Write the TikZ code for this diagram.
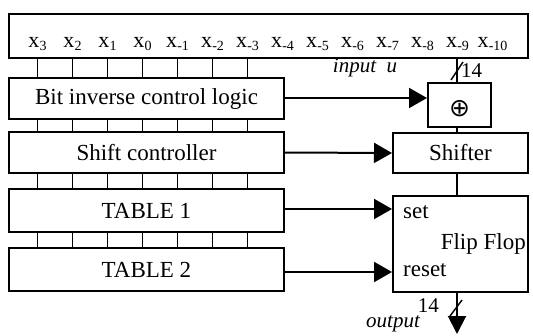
\documentclass[tikz,border=0pt]{standalone}
\usepackage{fontspec}
\setmainfont{Liberation Serif}
\newfontfamily\symfont{DejaVu Sans}
\usetikzlibrary{arrows.meta}
\newcommand\xsub[1]{x\kern0.3pt\raisebox{-3.5pt}{\fontsize{14}{14}\selectfont #1}}
\begin{document}
\begin{tikzpicture}[x=1pt,y=-1pt,
  blk/.style={draw, line width=2pt, inner sep=0pt, font=\fontsize{23}{23}\selectfont},
  bit/.style={inner sep=0pt, font=\fontsize{22}{22}\selectfont, anchor=base},
  tick/.style={line width=1.4pt},
  sig/.style={line width=2pt, -{Triangle[length=18pt,width=20pt]}},
  bus/.style={line width=1.8pt},
  lbl/.style={inner sep=0pt, font=\fontsize{21}{21}\selectfont}]
\useasboundingbox (0,0) rectangle (533,335);

% register with the input bits
\node[blk, minimum width=519pt, minimum height=44pt] (reg) at (268.5,36) {};
\foreach \lab [count=\i from 0] in {3,2,1,0,-1,-2,-3,-4,-5,-6,-7,-8,-9,-10}{
  \pgfmathsetmacro\px{37.5+35*\i}
  \node[bit] (b\i) at (\px,47) {\xsub{\lab}};
}

% control blocks on the left
\node[blk, minimum width=275pt, minimum height=41pt] (inv) at (146.5,98.5) {Bit inverse control logic};
\node[blk, minimum width=275pt, minimum height=41pt] (shc) at (146.5,152.5) {Shift controller};
\node[blk, minimum width=275pt, minimum height=43pt] (t1) at (146.5,210.5) {TABLE 1};
\node[blk, minimum width=275pt, minimum height=43pt] (t2) at (146.5,269.5) {TABLE 2};

% data path on the right
\node[blk, minimum width=63pt, minimum height=44pt] (xr) at (459.5,105) {};
\node[inner sep=0pt, font=\symfont\fontsize{25}{25}\selectfont] (xrsym) at (459.5,108.5) {⊕};
\node[blk, minimum width=135pt, minimum height=40pt] (sh) at (460.5,153) {Shifter};
\node[blk, minimum width=135pt, minimum height=96pt] (ff) at (460.5,244) {};
\node[anchor=base west, inner sep=0pt, font=\fontsize{23}{23}\selectfont] (ffset) at (403,218) {set};
\node[anchor=base east, inner sep=0pt, font=\fontsize{23}{23}\selectfont] (ffname) at (526,249) {Flip Flop};
\node[anchor=base west, inner sep=0pt, font=\fontsize{23}{23}\selectfont] (ffreset) at (403,276) {reset};

% bit lines between the stacked blocks
\foreach \i in {0,...,6}{
  \draw[tick] (reg.south -| b\i) -- (inv.north -| b\i);
  \draw[tick] (inv.south -| b\i) -- (shc.north -| b\i);
  \draw[tick] (shc.south -| b\i) -- (t1.north -| b\i);
  \draw[tick] (t1.south -| b\i) -- (t2.north -| b\i);
}

% control signals
\draw[sig] (inv.east |- 0,98) -- (xr.west |- 0,98);
\draw[sig] (shc.east) -- (sh.west);
\draw[sig] (t1.east |- 0,209) -- (ff.west |- 0,209);
\draw[sig] (t2.east |- 0,272) -- (ff.west |- 0,272);

% 14-bit input bus
\coordinate (busx) at (457,0);
\draw[bus] (reg.south -| busx) -- (xr.north -| busx);
\draw[line width=1.4pt] (451,80) -- (463,62);
\node[lbl, anchor=west] (w1) at (461,71) {14};
\node[lbl, font=\itshape\fontsize{21}{21}\selectfont] (inu) at (365,68) {input\ \ u};

% through the shifter to the flip flop
\draw[bus] (xr.south -| busx) -- (sh.north -| busx);
\draw[bus] (sh.south -| busx) -- (ff.north -| busx);

% 14-bit output
\coordinate (out) at (457,334);
\draw[line width=2pt, -{Triangle[length=18pt,width=18pt]}] (ff.south -| busx) -- (out);
\draw[line width=1.4pt] (450,316) -- (462,300);
\node[lbl, anchor=east] (w2) at (439,306) {14};
\node[lbl, font=\itshape\fontsize{21}{21}\selectfont] (outl) at (393,324) {output};
\end{tikzpicture}
\end{document}
